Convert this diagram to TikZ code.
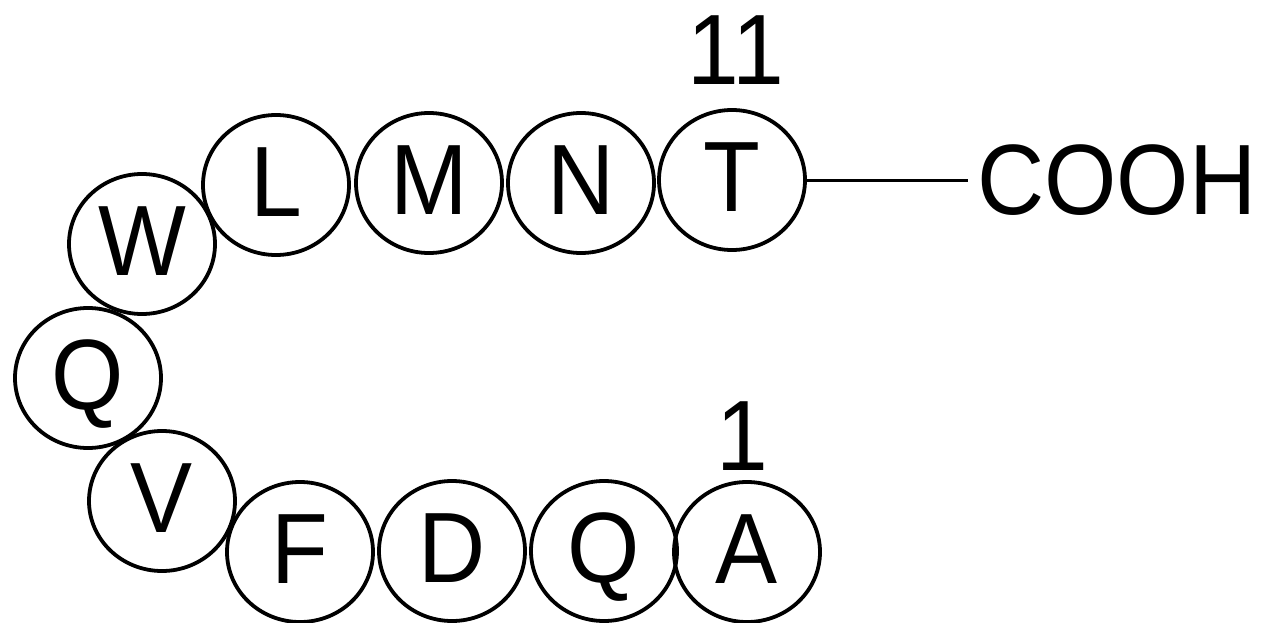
\documentclass[tikz,border=0pt]{standalone}
\usepackage{fontspec}
\setmainfont{Liberation Sans}[FakeStretch=0.93]
\usetikzlibrary{shapes.geometric}
\newlength\capht
\newcommand\bigfont{\fontsize{100}{104}\selectfont}

\begin{document}
\settoheight{\capht}{\bigfont H}
\begin{tikzpicture}[x=1pt, y=-1pt,
		residue/.style={draw, ellipse, line width=3.8pt, minimum width=146pt, minimum height=140pt, inner sep=0pt, text height=\capht, text depth=6pt, font=\bigfont},
		tag/.style={inner sep=0pt, text height=\capht, text depth=0pt, font=\bigfont}]
			\useasboundingbox (0,0) rectangle (1265,623);
			
			% Residues, N-terminus at the bottom right
			\foreach \name/\res/\x/\y in {a1/A/747/552, q2/Q/604/551, d3/D/452/551, f4/F/300/552, v5/V/162/501, q6/Q/88/378, w7/W/142/244, l8/L/276/185, m9/M/429/183, n10/N/581/183, t11/T/732/180} {
				\node[residue] (\name) at (\x,\y) {\res};
			}
			
			% Position numbers
			\node[tag] (num1) at (742,436) {1};
			\node[tag] (num11) at (736,50) {11};
			
			% C-terminus
			\node[tag, inner xsep=9pt, anchor=west] (cooh) at (968,180) {COOH};
			\draw[line width=3pt] (t11.east) -- (cooh.west);
			
		\end{tikzpicture}
\end{document}
